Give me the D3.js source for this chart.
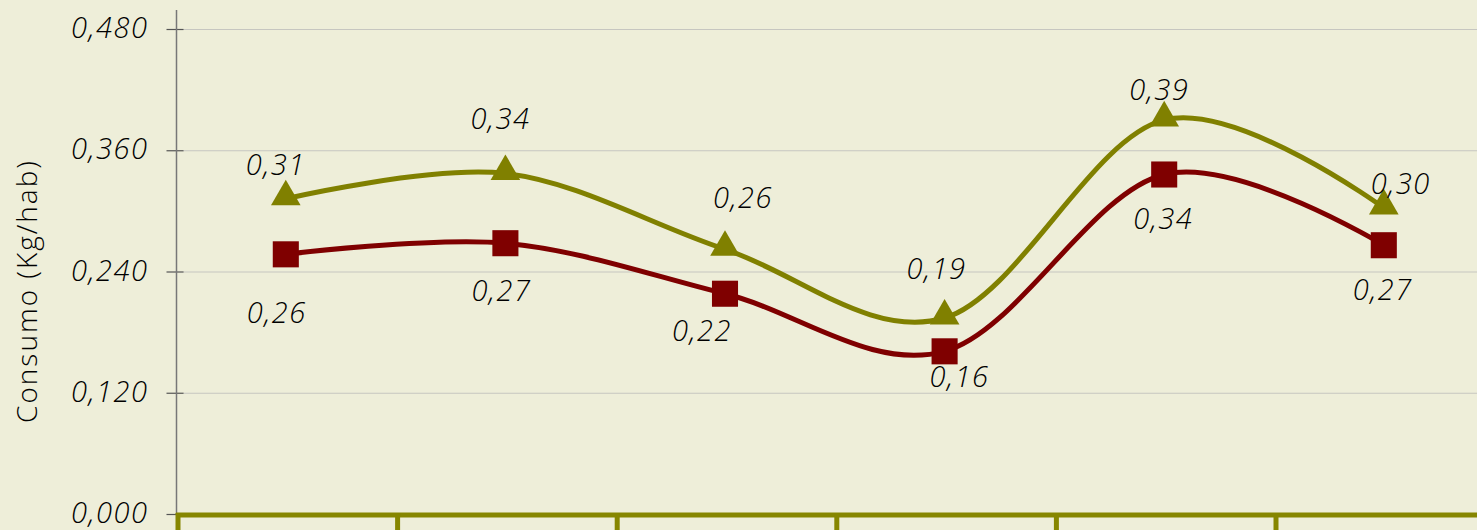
<!DOCTYPE html>
<html lang="es">
	<head>
		<meta charset="utf-8">
		<title>Consumo</title>
		<script type="text/javascript" src="https://cdnjs.cloudflare.com/ajax/libs/d3/7.8.5/d3.min.js"></script>
		<style type="text/css">
			body { margin: 0; background: #eeeed9; }
			svg { display: block; }
			text { font-family: 'Open Sans', sans-serif; fill: #000; }
		</style>
	</head>
	<body>
		<script type="text/javascript">
			// data
			var categories = ['1', '2', '3', '4', '5', '6'];
			var oliveValues = [0.312, 0.337, 0.262, 0.194, 0.390, 0.303];
			var redValues = [0.257, 0.268, 0.218, 0.161, 0.336, 0.266];
			var yTicks = [0, 0.12, 0.24, 0.36, 0.48];

			// label offsets (px) from each marker, as placed in the original
			var oliveLabelOffset = [[-10, -34], [-5, -55], [18, -51], [-8, -49], [-5, -30], [17, -24]];
			var redLabelOffset = [[-9, 59], [-4, 48], [-23, 37], [15, 26], [-1, 44], [-1, 45]];

			var w = 1477;
			var h = 530;
			var margin = {'left': 176, 'right': 0, 'bottom': 14, 'top': 29};
			var catW = 219.6;

			var svg = d3.select('body').append('svg').attr('width', w).attr('height', h);

			var es = d3.formatLocale({decimal: ',', thousands: '.', grouping: [3], currency: ['', '']});
			var fmtTick = es.format('.3f');
			var fmtLabel = es.format('.2f');

			var xScale = d3.scaleBand()
						   .domain(categories)
						   .range([margin.left, margin.left + catW * categories.length]);

			var yScale = d3.scaleLinear()
						   .domain([0, 0.48])
						   .range([h - margin.bottom - 2, margin.top]);

			// gridlines
			svg.append('g')
			.selectAll('line')
			.data(yTicks.slice(1))
			.enter()
			.append('line')
			.attr('x1', margin.left + 7)
			.attr('x2', w)
			.attr('y1', function(d) { return yScale(d) + 0.5; })
			.attr('y2', function(d) { return yScale(d) + 0.5; })
			.attr('stroke', '#c6c6c0')
			.attr('stroke-width', 1);

			// y axis
			var yAxis = d3.axisLeft().scale(yScale).tickValues(yTicks).tickFormat(fmtTick).tickSizeInner(10).tickSizeOuter(0).tickPadding(18);
			var gy = svg.append('g')
			.attr('transform', 'translate(' + (margin.left + 0.5) + ',0)')
			.call(yAxis);
			gy.select('.domain').remove();
			gy.append('line')
			.attr('x1', 0).attr('x2', 0)
			.attr('y1', 10).attr('y2', yScale(0))
			.attr('stroke', '#777').attr('stroke-width', 1.5);
			gy.selectAll('.tick line')
			.attr('x1', 7)
			.attr('stroke', '#555')
			.attr('stroke-width', 1.2);
			gy.selectAll('.tick text')
			.attr('fill', '#000')
			.attr('dy', '0.3em')
			.style('font-size', '29px')
			.style('font-weight', '300')
			.style('font-style', 'italic')
			.style('letter-spacing', '1.5px');

			svg.append('text')
			.attr('transform', 'translate(37,' + 291 + ') rotate(-90)')
			.attr('text-anchor', 'middle')
			.style('font-size', '28px')
			.style('font-weight', '300')
			.style('letter-spacing', '2px')
			.text('Consumo (Kg/hab)');

			// x axis: thick olive line with category boundary ticks
			var bounds = d3.range(categories.length + 1);
			var bScale = d3.scaleLinear().domain([0, categories.length]).range(xScale.range());
			var gx = svg.append('g');
			gx.append('line')
			.attr('x1', margin.left).attr('x2', w)
			.attr('y1', yScale(0) + 1).attr('y2', yScale(0) + 1)
			.attr('stroke', '#868600').attr('stroke-width', 5);
			gx.selectAll('.xt')
			.data(bounds)
			.enter()
			.append('line')
			.attr('class', 'xt')
			.attr('x1', function(d) { return bScale(d) + 2; })
			.attr('x2', function(d) { return bScale(d) + 2; })
			.attr('y1', yScale(0) - 1)
			.attr('y2', h)
			.attr('stroke', '#868600')
			.attr('stroke-width', 5);

			var xPos = function(i) { return xScale(categories[i]) + xScale.bandwidth() / 2; };

			var line = d3.line()
						 .x(function(d, i) { return xPos(i); })
						 .y(function(d) { return yScale(d); })
						 .curve(d3.curveCardinal.tension(0));

			var series = [
				{values: oliveValues, color: '#808000', marker: 'triangle', offs: oliveLabelOffset},
				{values: redValues, color: '#7f0000', marker: 'square', offs: redLabelOffset}
			];

			series.forEach(function(s) {
				svg.append('path')
				.datum(s.values)
				.attr('fill', 'none')
				.attr('stroke', s.color)
				.attr('stroke-width', 5)
				.attr('stroke-linejoin', 'round')
				.attr('d', line);
			});

			series.forEach(function(s) {
				var sym = s.marker === 'triangle'
					? d3.symbol().type(d3.symbolTriangle).size(380)
					: d3.symbol().type(d3.symbolSquare).size(680);
				svg.append('g')
				.selectAll('path')
				.data(s.values)
				.enter()
				.append('path')
				.attr('transform', function(d, i) {
					var dy = s.marker === 'triangle' ? -2 : 0;
					return 'translate(' + xPos(i) + ',' + (yScale(d) + dy) + ')';
				})
				.attr('d', sym)
				.attr('fill', s.color);

				svg.append('g')
				.selectAll('text')
				.data(s.values)
				.enter()
				.append('text')
				.attr('x', function(d, i) { return xPos(i) + s.offs[i][0]; })
				.attr('y', function(d, i) { return yScale(d) + s.offs[i][1]; })
				.attr('text-anchor', 'middle')
				.attr('dy', '0.35em')
				.style('font-size', '29px')
				.style('font-weight', '300')
				.style('font-style', 'italic')
				.style('letter-spacing', '1.5px')
				.text(function(d) { return fmtLabel(d); });
			});
		</script>
	</body>
</html>
